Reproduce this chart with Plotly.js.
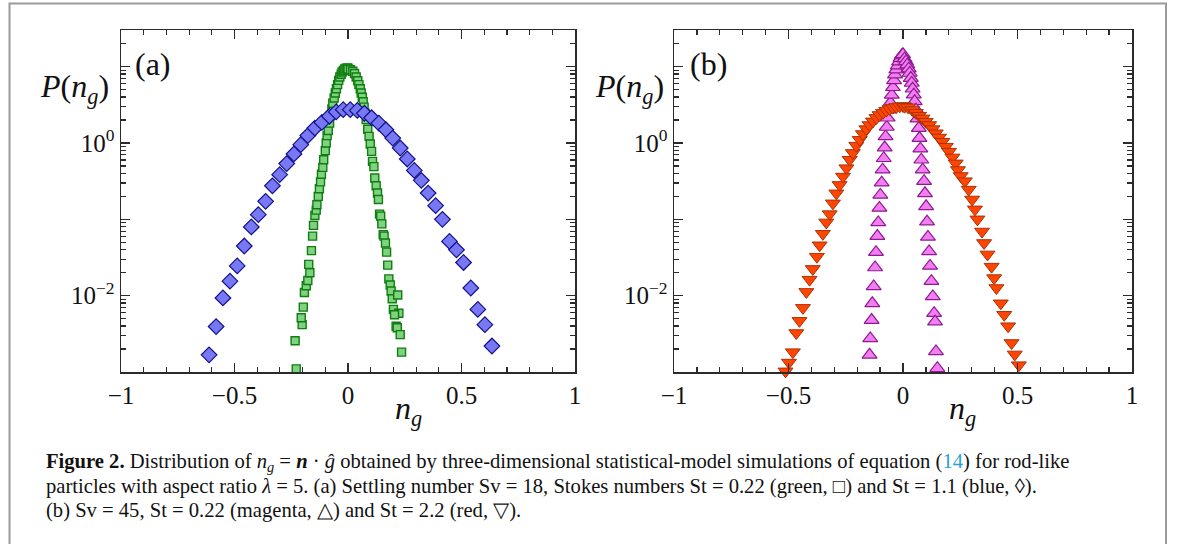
<!DOCTYPE html>
<html><head><meta charset="utf-8">
<script src="https://cdn.plot.ly/plotly-3.0.1.min.js"></script>
<style>html,body{margin:0;padding:0;background:#fff}</style>
</head><body><div id="chart" style="width:1182px;height:544px"></div>
<script>
// ---------- data ----------
// Panel (a): Sv = 18, St = 0.22 (green squares)
const aGreenX = [-0.228,-0.233,-0.202,-0.206,-0.197,-0.192,-0.184,-0.177,-0.168,-0.173,-0.161,-0.156,-0.152,-0.146,-0.140,-0.137,-0.131,-0.126,-0.121,-0.117,-0.111,-0.107,-0.100,-0.096,-0.092,-0.087,-0.081,-0.077,-0.071,-0.067,-0.061,-0.056,-0.051,-0.046,-0.041,-0.036,-0.030,-0.026,-0.020,-0.014,-0.008,-0.001,
  0.000,0.011,0.021,0.029,0.036,0.043,0.048,0.054,0.058,0.063,0.067,0.071,0.075,0.080,0.087,0.093,0.098,0.104,0.108,0.114,0.118,0.124,0.130,0.134,0.139,0.144,0.149,0.155,0.159,0.165,0.170,0.175,0.180,0.186,0.190,0.195,0.219,0.200,0.224,0.205,0.212,0.217,0.230,0.236];
const aGreenP = [0.00110,0.00257,0.00417,0.00513,0.00708,0.0110,0.0135,0.0158,0.0200,0.0257,0.0389,0.0603,0.0832,0.112,0.132,0.155,0.200,0.251,0.309,0.389,0.479,0.603,0.794,1.00,1.25,1.46,1.82,2.29,2.79,3.31,3.89,4.52,5.13,5.81,6.61,7.33,7.94,8.51,8.91,9.33,9.55,9.62,
  9.33,9.12,8.71,8.13,7.33,6.53,5.82,5.13,4.52,3.98,3.47,2.95,2.45,2.02,1.51,1.22,0.971,0.776,0.575,0.490,0.347,0.275,0.221,0.182,0.117,0.110,0.0871,0.0631,0.0603,0.0490,0.0372,0.0251,0.0166,0.0138,0.0115,0.00912,0.0102,0.00661,0.00589,0.00562,0.00398,0.00380,0.00309,0.00182];
// Panel (a): Sv = 18, St = 1.1 (blue diamonds)
const aBlueX = [-0.612,-0.581,-0.551,-0.520,-0.488,-0.457,-0.426,-0.395,-0.363,-0.333,-0.301,-0.270,-0.238,-0.208,-0.177,-0.146,-0.115,-0.082,-0.052,-0.021,
  0.010,0.041,0.072,0.104,0.136,0.167,0.197,0.230,0.261,0.292,0.323,0.353,0.386,0.416,0.447,0.478,0.509,0.541,0.572,0.603,0.634];
const aBlueP = [0.00168,0.00394,0.00933,0.0155,0.0245,0.0447,0.0794,0.115,0.172,0.275,0.385,0.537,0.718,0.951,1.25,1.57,1.86,2.24,2.55,2.73,
  2.73,2.67,2.45,2.14,1.82,1.49,1.16,0.859,0.617,0.437,0.324,0.221,0.151,0.100,0.0513,0.0398,0.0272,0.0126,0.00661,0.00417,0.00219];
// Panel (b): Sv = 45, St = 0.22 (magenta up-triangles)
const bMagX = [-0.146,-0.143,-0.137,-0.134,-0.128,-0.122,-0.118,-0.112,-0.108,-0.103,-0.099,-0.093,-0.089,-0.084,-0.080,-0.076,-0.071,-0.067,-0.061,-0.055,-0.049,-0.044,-0.039,-0.035,-0.029,-0.023,-0.017,-0.011,-0.006,0.000,
  0.007,0.013,0.019,0.025,0.029,0.034,0.038,0.042,0.047,0.051,0.057,0.063,0.069,0.072,0.076,0.080,0.086,0.092,0.096,0.101,0.105,0.109,0.114,0.118,0.124,0.130,0.136,0.140,0.144,0.150];
const bMagP = [0.00168,0.00275,0.00479,0.00794,0.0132,0.0234,0.0372,0.0603,0.0912,0.141,0.209,0.302,0.447,0.631,0.871,1.22,1.62,2.14,2.73,3.39,4.27,5.37,6.61,7.85,9.12,10.3,11.6,12.9,14.0,14.5,
  12.7,11.7,10.6,9.42,8.26,7.08,6.11,5.13,4.30,3.51,2.73,2.08,1.57,1.16,0.841,0.603,0.447,0.316,0.219,0.148,0.0933,0.0589,0.0380,0.0245,0.0155,0.00977,0.00589,0.00457,0.00186,0.00112];
// Panel (b): Sv = 45, St = 2.2 (red down-triangles)
const bRedX = [-0.513,-0.498,-0.481,-0.466,-0.452,-0.437,-0.422,-0.408,-0.394,-0.376,-0.364,-0.350,-0.335,-0.320,-0.306,-0.291,-0.277,-0.262,-0.247,-0.233,-0.219,-0.204,-0.189,-0.175,-0.160,-0.146,-0.131,-0.116,-0.102,-0.087,-0.073,-0.058,-0.044,-0.029,-0.014,0.000,
  0.007,0.022,0.041,0.056,0.070,0.085,0.099,0.114,0.129,0.143,0.157,0.172,0.187,0.201,0.216,0.230,0.240,0.252,0.270,0.287,0.302,0.314,0.325,0.345,0.354,0.369,0.387,0.398,0.408,0.427,0.442,0.459,0.474,0.488,0.506];
const bRedP = [0.00102,0.00133,0.00182,0.00324,0.00468,0.00692,0.0112,0.0162,0.0224,0.0324,0.0457,0.0646,0.0912,0.117,0.162,0.219,0.282,0.363,0.468,0.603,0.741,0.923,1.10,1.31,1.52,1.72,1.92,2.13,2.33,2.49,2.65,2.79,2.90,2.96,3.02,3.05,
  2.99,2.93,2.70,2.49,2.28,2.10,1.90,1.72,1.52,1.34,1.18,1.04,0.895,0.769,0.647,0.541,0.443,0.369,0.316,0.245,0.182,0.135,0.100,0.0692,0.0490,0.0347,0.0240,0.0170,0.0126,0.00794,0.00562,0.00398,0.00240,0.00170,0.00123];

// Axis ticks / labels
const xTickVals = [-1,-0.5,0,0.5,1];
const xTickText = ['\u22121','\u22120.5','0','0.5','1'];
const yLabelVals = [0.01,1];
const yLabelText = ['10<sup>\u22122</sup>','10<sup>0</sup>'];
const yBareMajors = [0.001,0.1,10];
const panelLabels = ['(a)','(b)'];
const yTitle = '<i>P</i>(<i>n<sub>g</sub></i>)';
const xTitle = '<i>n<sub>g</sub></i>';
const captionLines = [
 '<b>Figure 2.</b> Distribution of <i>n<sub>g</sub></i> = <b><i>n</i></b> · <i>ĝ</i> obtained by three-dimensional statistical-model simulations of equation (<span style="color:#2a9fd6">14</span>) for rod-like',
 'particles with aspect ratio <i>λ</i> = 5. (a) Settling number Sv = 18, Stokes numbers St = 0.22 (green, □) and St = 1.1 (blue, ◊).',
 '(b) Sv = 45, St = 0.22 (magenta, △) and St = 2.2 (red, ▽).'
];

// ---------- layout helpers (pixel -> paper) ----------
const W=1182, H=544, L=121, R=1132, T=30, B=372;
const px = X => (X-L)/(R-L);
const py = Y => (B-Y)/(B-T);
const serif = 'Liberation Serif, Times New Roman, serif';
const ink = '#2b2b2b';
const YR = [-3,1.48];

function xAxis(d0,d1,anchor){
  return {domain:[d0,d1], anchor:anchor, range:[-1,1], showline:true, mirror:'ticks', linecolor:ink, linewidth:1.5,
    ticks:'inside', ticklen:9, tickwidth:1.3, tickcolor:ink, tickmode:'array', tickvals:xTickVals, ticktext:xTickText,
    minor:{ticks:'inside', tickmode:'linear', tick0:0, dtick:0.1, ticklen:5, tickwidth:1.2, tickcolor:ink, showgrid:false},
    showgrid:false, zeroline:false, tickfont:{family:serif, size:25, color:'#111'}, fixedrange:true};
}
function yAxis(anchor){
  return {domain:[0,1], anchor:anchor, type:'log', range:YR, showline:true, mirror:'ticks', linecolor:ink, linewidth:1.5,
    ticks:'inside', ticklen:9, tickwidth:1.3, tickcolor:ink, tickmode:'array', tickvals:yLabelVals, ticktext:yLabelText,
    minor:{ticks:'inside', dtick:'D1', ticklen:5, tickwidth:1.2, tickcolor:ink, showgrid:false},
    showgrid:false, zeroline:false, tickfont:{family:serif, size:25, color:'#111'}, fixedrange:true};
}
// tick-only overlay axis for the unlabelled decades
function yBare(overlay, anchor){
  return {overlaying:overlay, anchor:anchor, type:'log', range:YR, showline:false, mirror:'ticks',
    ticks:'inside', ticklen:9, tickwidth:1.3, tickcolor:ink, tickmode:'array', tickvals:yBareMajors,
    showticklabels:false, showgrid:false, zeroline:false, fixedrange:true};
}

const traces = [
  {x:aGreenX, y:aGreenP, xaxis:'x', yaxis:'y', mode:'markers', type:'scatter', cliponaxis:false,
   marker:{symbol:'square', size:8, color:'#7fd27f', line:{color:'#0f7d0f', width:1.4}}},
  {x:aBlueX, y:aBlueP, xaxis:'x', yaxis:'y', mode:'markers', type:'scatter', cliponaxis:false,
   marker:{symbol:'diamond', size:12, color:'#7878f5', line:{color:'#12128a', width:1.2}}},
  {x:bMagX, y:bMagP, xaxis:'x2', yaxis:'y2', mode:'markers', type:'scatter', cliponaxis:false,
   marker:{symbol:'triangle-up', size:13, color:'#f37ef3', line:{color:'#8e1a8e', width:1.2}}},
  {x:bRedX, y:bRedP, xaxis:'x2', yaxis:'y2', mode:'markers', type:'scatter', cliponaxis:false,
   marker:{symbol:'triangle-down', size:13, color:'#ff4500', line:{color:'#a8320a', width:1}}},
  // invisible anchors so the tick-only overlay axes are drawn
  {x:[0], y:[1], xaxis:'x', yaxis:'y3', mode:'markers', type:'scatter', marker:{opacity:0}, hoverinfo:'skip'},
  {x:[0], y:[1], xaxis:'x2', yaxis:'y4', mode:'markers', type:'scatter', marker:{opacity:0}, hoverinfo:'skip'}
];

const ann = [];
const big = {family:serif, size:32, color:'#111'};
[[133,111,408],[688,666,962]].forEach((p,i)=>{
  ann.push({xref:'paper', yref:'paper', x:px(p[0]), y:py(64), xanchor:'left', yanchor:'middle', showarrow:false, text:panelLabels[i], font:big});
  ann.push({xref:'paper', yref:'paper', x:px(p[1]), y:py(88), xanchor:'right', yanchor:'middle', showarrow:false, text:yTitle, font:big});
  ann.push({xref:'paper', yref:'paper', x:px(p[2]), y:py(411), xanchor:'center', yanchor:'middle', showarrow:false, text:xTitle, font:big});
});
captionLines.forEach((t,i)=>{
  ann.push({xref:'paper', yref:'paper', x:px(44), y:py(462+24*i), xanchor:'left', yanchor:'middle', showarrow:false, align:'left',
    text:t, font:{family:serif, size:20.6, color:'#111'}});
});

const layout = {
  width:W, height:H, margin:{l:L, r:W-R, t:T, b:H-B, pad:0},
  paper_bgcolor:'#fff', plot_bgcolor:'#fff', showlegend:false,
  xaxis:xAxis(0, px(575), 'y'), yaxis:yAxis('x'),
  xaxis2:xAxis(px(674), 1, 'y2'), yaxis2:yAxis('x2'),
  yaxis3:yBare('y','x'), yaxis4:yBare('y2','x2'),
  annotations:ann,
  shapes:[{type:'rect', xref:'paper', yref:'paper', x0:px(9.5), x1:px(1166), y0:py(600), y1:py(3.5), line:{color:'#9a9a9a', width:2}, fillcolor:'rgba(0,0,0,0)', layer:'below'}]
};
Plotly.newPlot('chart', traces, layout, {staticPlot:true, displayModeBar:false});
</script></body></html>
